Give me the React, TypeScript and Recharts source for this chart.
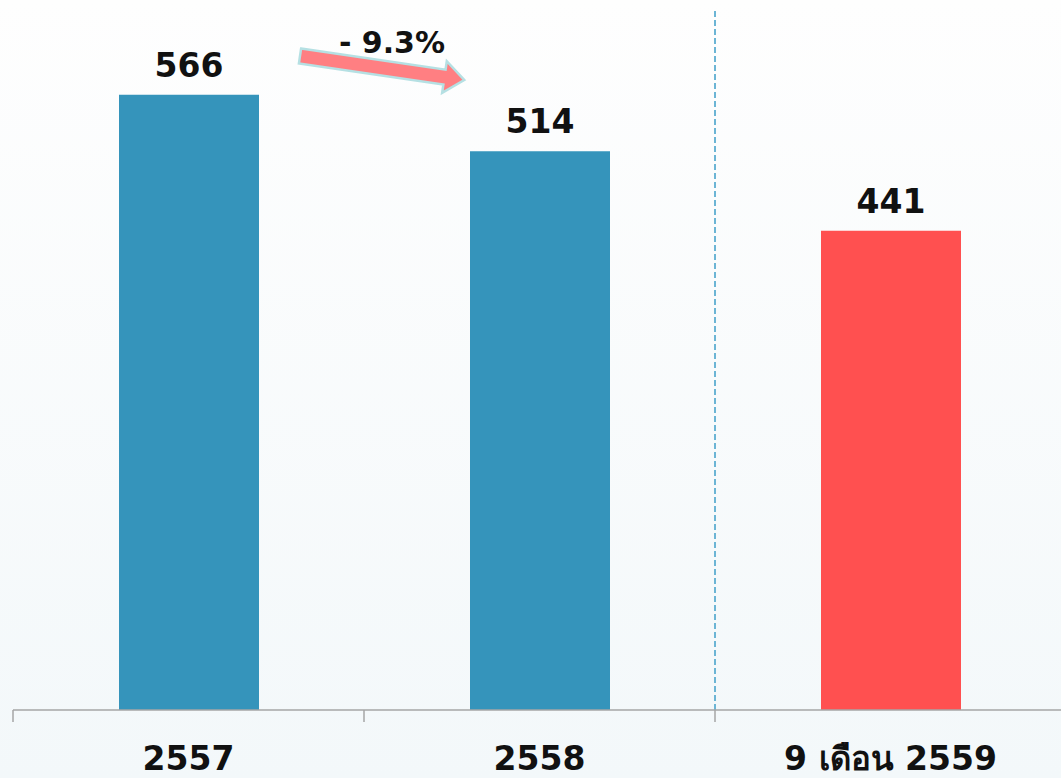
import React from "react"
import { Bar, BarChart, Cell, LabelList, ReferenceLine, XAxis, YAxis } from "recharts"

const periods = ["2557", "2558", "9 เดือน 2559"]
const counts = [566, 514, 441]
const barColors = ["#3594BB", "#3594BB", "#FF5050"]
const changeLabel = "- 9.3%"

const data = periods.map((period, i) => ({ period, count: counts[i] }))

const CHART_W = 1070
const MARGIN_L = 13
const MARGIN_R = 4
const HALF_BAND = (CHART_W - MARGIN_L - MARGIN_R) / periods.length / 2

function PeriodTick(props: any) {
  const { x, y, payload } = props
  const left = x - HALF_BAND
  return (
    <g>
      <line x1={left} y1={y} x2={left} y2={y + 12} stroke="#a6a6a6" strokeWidth={1.5} />
      <text
        x={x}
        y={y + 60}
        textAnchor="middle"
        fontSize={33}
        fontWeight="bold"
        fill="#111"
      >
        {payload.value}
      </text>
    </g>
  )
}

export default function App() {
  return (
    <div
      style={{
        position: "fixed",
        top: 0,
        left: 0,
        width: 1061,
        height: 778,
        overflow: "hidden",
        background: "linear-gradient(to bottom, #fefefe, #f3f8fa)",
        fontFamily: "'DejaVu Sans', sans-serif",
      }}
    >
      <BarChart
        width={CHART_W}
        height={778}
        data={data}
        margin={{ top: 10, right: MARGIN_R, bottom: 0, left: MARGIN_L }}
        barSize={140}
      >
        <XAxis
          dataKey="period"
          height={68}
          tickLine={false}
          tickSize={0}
          tickMargin={0}
          axisLine={{ stroke: "#a6a6a6", strokeWidth: 1.5 }}
          tick={<PeriodTick />}
          interval={0}
        />
        <YAxis hide domain={[0, 644]} />
        <ReferenceLine
          x="9 เดือน 2559"
          position="start"
          stroke="#6cb5d5"
          strokeDasharray="6 3"
          strokeWidth={2}
        />
        <Bar dataKey="count" isAnimationActive={false}>
          {data.map((d, i) => (
            <Cell key={d.period} fill={barColors[i]} />
          ))}
          <LabelList
            dataKey="count"
            position="top"
            offset={18}
            fontSize={33}
            fontWeight="bold"
            fill="#111"
          />
        </Bar>
      </BarChart>
      <svg
        width={1061}
        height={778}
        style={{ position: "absolute", top: 0, left: 0, pointerEvents: "none" }}
      >
        <g transform="translate(300,56) rotate(8.3)">
          <polygon
            points="0,-7.5 146,-7.5 146,-16 166,0 146,16 146,7.5 0,7.5"
            fill="#FF7F82"
            stroke="#b5e0e3"
            strokeWidth={2.5}
          />
        </g>
        <text x={392} y={53} textAnchor="middle" fontSize={30} fontWeight="bold" fill="#111">
          {changeLabel}
        </text>
      </svg>
    </div>
  )
}
